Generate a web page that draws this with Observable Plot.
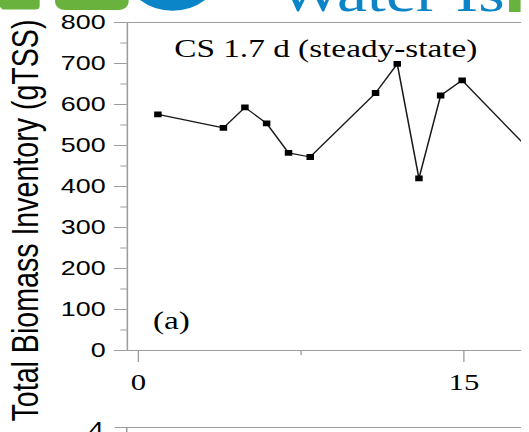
<!DOCTYPE html>
<html><head><meta charset="utf-8">
<script src="https://cdn.jsdelivr.net/npm/d3@7"></script>
<script src="https://cdn.jsdelivr.net/npm/@observablehq/plot@0.6"></script>
<style>
html,body{margin:0;padding:0;background:#fff;overflow:hidden;}
#wrap{position:relative;width:414px;height:432px;transform:scaleX(1.28);transform-origin:0 0;}
#wrap svg{display:block;}
#overlay{position:absolute;left:0;top:0;pointer-events:none;}
</style></head><body><div id="wrap"></div>
<script>
// ---- data ----
const days = [0.9, 3.92, 4.91, 5.91, 6.92, 7.92, 10.93, 11.93, 12.93, 13.93, 14.92, 17.92];
const biomass = [576, 543, 593, 554, 482, 472, 628, 699, 420, 622, 659, 495];
const yTicks = [0, 100, 200, 300, 400, 500, 600, 700, 800];
const yMinorTicks = [50, 150, 250, 350, 450, 550, 650, 750];
const xTicks = [0, 15];
const xMinorTicks = [7.5];
const titleText = "CS 1.7 d (steady-state)";
const panelLabel = "(a)";
const yLabel = "Total Biomass Inventory (gTSS)";
const logoText = "Water Is";
const nextPanelTick = "4";

const xDomain = [-0.507, 17.66];
const yDomain = [0, 800];

const SANS = "'Liberation Sans', Arial, Helvetica, sans-serif";
const SERIF = "'Liberation Serif', 'Times New Roman', Times, serif";
const GRAY = "#9c9c9c";

const data = days.map((d, i) => ({day: d, tss: biomass[i]}));

const W = 414, H = 432;
const chart = Plot.plot({
  width: W, height: H,
  marginLeft: 99, marginRight: 7, marginTop: 22, marginBottom: 82,
  x: {domain: xDomain},
  y: {domain: yDomain},
  style: {background: "transparent", overflow: "visible"},
  marks: [
    Plot.ruleY([yDomain[0], yDomain[1]], {stroke: GRAY, strokeWidth: 1.2}),
    Plot.ruleX([xDomain[0]], {stroke: GRAY, strokeWidth: 1.2}),
    Plot.axisY({ticks: yTicks, tickSize: 10, tickPadding: 7, label: null, stroke: GRAY, fill: "#000",
      fontSize: 21, fontFamily: SANS, tickFormat: d => String(d)}),
    Plot.axisY({ticks: yMinorTicks, tickSize: 5, label: null, stroke: GRAY, fill: "none"}),
    Plot.axisX({ticks: xTicks, tickSize: 12, tickPadding: 10, label: null, stroke: GRAY, fill: "#000",
      fontSize: 24, fontFamily: SERIF, tickFormat: d => String(d)}),
    Plot.axisX({ticks: xMinorTicks, tickSize: 5, label: null, stroke: GRAY, fill: "none"}),
    Plot.line(data, {x: "day", y: "tss", stroke: "#1a1a1a", strokeWidth: 1.2, clip: true}),
    Plot.dot(data, {x: "day", y: "tss", symbol: "square", r: 3.3, fill: "#000", stroke: "none", clip: true}),
    Plot.text([titleText], {text: d => d, frameAnchor: "top", lineAnchor: "bottom", dx: 1, dy: 34,
      fontFamily: SERIF, fontSize: 26, fill: "#000"}),
    Plot.text([panelLabel], {text: d => d, frameAnchor: "bottom-left", textAnchor: "start", lineAnchor: "bottom",
      dx: 20, dy: -22, fontFamily: SERIF, fontSize: 26, fill: "#000"}),
    Plot.text([yLabel], {text: d => d, frameAnchor: "left", textAnchor: "middle", rotate: -90, lineAnchor: "bottom",
      dx: -70, dy: 34, fontFamily: SANS, fontSize: 28.6, fill: "#000"})
  ]
});
const wrap = document.getElementById("wrap");
wrap.appendChild(chart);

// ---- decorative overlay: logo strip at the top, top of the next panel at the bottom ----
const ov = d3.select(wrap).append("svg").attr("id", "overlay")
  .attr("width", W).attr("height", H);
const GREEN = "#6ab23e", BLUE = "#0b84c8";
ov.append("path").attr("d", "M0,-5 H31 V6 Q31,9.5 27.5,9.5 H2 L0,7 Z").attr("fill", GREEN);
ov.append("rect").attr("x", 43).attr("y", -12).attr("width", 57.5).attr("height", 22)
  .attr("rx", 8).attr("fill", GREEN);
ov.append("circle").attr("cx", 134.8).attr("cy", -24.8).attr("r", 35.5).attr("fill", BLUE);
ov.append("text").attr("x", 217.5).attr("y", 11).attr("font-family", SERIF).attr("font-size", 53)
  .attr("fill", BLUE).text(logoText);
ov.append("rect").attr("x", 397.7).attr("y", -2).attr("width", 9).attr("height", 14).attr("fill", GREEN);

ov.append("line").attr("x1", 89.8).attr("x2", 407).attr("y1", 427.5).attr("y2", 427.5)
  .attr("stroke", GRAY).attr("stroke-width", 1.2);
ov.append("line").attr("x1", 99).attr("x2", 99).attr("y1", 427.5).attr("y2", 433)
  .attr("stroke", GRAY).attr("stroke-width", 1.2);
ov.append("text").attr("x", 81).attr("y", 436).attr("text-anchor", "end")
  .attr("font-family", SANS).attr("font-size", 21).attr("fill", "#000").text(nextPanelTick);
</script>
</body></html>
